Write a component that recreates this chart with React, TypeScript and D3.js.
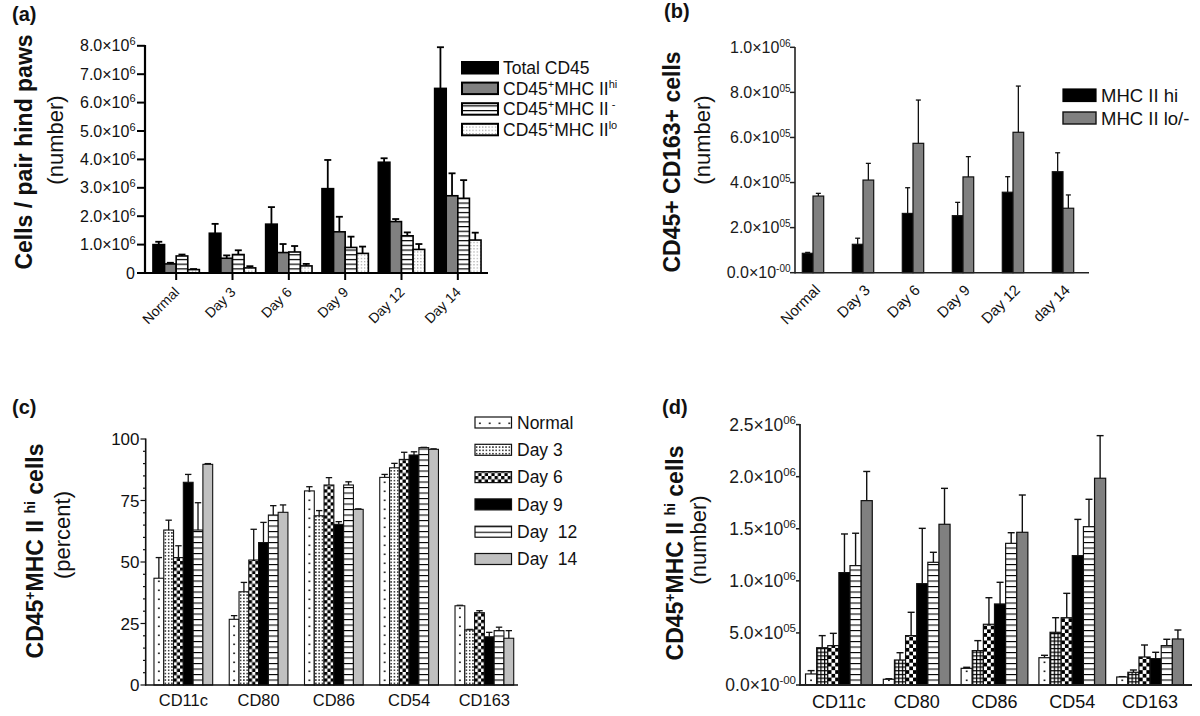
import React from "react";
import * as d3 from "d3";

const FONT = "'Liberation Sans', Arial, Helvetica, sans-serif";

// ---------- Panel (a) ----------
const daysA = ["Normal", "Day 3", "Day 6", "Day 9", "Day 12", "Day 14"];
const aTotal = [1.0, 1.4, 1.72, 2.97, 3.9, 6.5]; // x10^6
const aTotalErr = [1.1, 1.73, 2.32, 3.98, 4.04, 7.95];
const aHi = [0.32, 0.52, 0.72, 1.45, 1.81, 2.72];
const aHiErr = [0.36, 0.62, 1.02, 1.98, 1.9, 3.51];
const aNeg = [0.6, 0.65, 0.74, 0.9, 1.31, 2.63];
const aNegErr = [0.65, 0.8, 0.95, 1.28, 1.43, 3.27];
const aLo = [0.12, 0.18, 0.25, 0.69, 0.83, 1.16];
const aLoErr = [0.14, 0.24, 0.32, 0.93, 1.02, 1.42];
const aTicks = [0, 1, 2, 3, 4, 5, 6, 7, 8];
const aTickBase = ["0", "1.0×10", "2.0×10", "3.0×10", "4.0×10", "5.0×10", "6.0×10", "7.0×10", "8.0×10"];
const aTickSup = ["", "6", "6", "6", "6", "6", "6", "6", "6"];

// ---------- Panel (b) ----------
const daysB = ["Normal", "Day 3", "Day 6", "Day 9", "Day 12", "day 14"];
const bHi = [0.86, 1.26, 2.63, 2.53, 3.57, 4.48]; // x10^5
const bHiErr = [0.9, 1.53, 3.77, 3.12, 4.26, 5.32];
const bLo = [3.4, 4.11, 5.74, 4.25, 6.23, 2.86];
const bLoErr = [3.52, 4.85, 7.66, 5.15, 8.28, 3.45];
const bTicks = [0, 2, 4, 6, 8, 10];
const bTickBase = ["0.0×10", "2.0×10", "4.0×10", "6.0×10", "8.0×10", "1.0×10"];
const bTickSup = ["-00", "05", "05", "05", "05", "06"];

// ---------- Panels (c) & (d) ----------
const markers = ["CD11c", "CD80", "CD86", "CD54", "CD163"];
const dayNames = ["Normal", "Day 3", "Day 6", "Day 9", "Day\u00A0 12", "Day\u00A0 14"];

const cNormal = [43.4, 26.7, 78.9, 84.4, 32.2];
const cNormalErr = [51.8, 28.2, 80.6, 85.6, 32.4];
const cDay3 = [63, 37.9, 68.8, 88.3, 22.4];
const cDay3Err = [67, 41.7, 70.9, 90.1, 22.6];
const cDay6 = [51.8, 50.8, 81.3, 91.7, 29.4];
const cDay6Err = [56.6, 63.3, 84.3, 94.6, 30.2];
const cDay9 = [82.4, 57.9, 65.3, 93.5, 19.6];
const cDay9Err = [85.6, 66.1, 66.4, 94.8, 21.4];
const cDay12 = [63, 69.1, 81.3, 96.5, 22.1];
const cDay12Err = [74.1, 72.9, 82.6, 96.6, 23.5];
const cDay14 = [89.7, 70.2, 71.4, 95.8, 19];
const cDay14Err = [90, 73.2, 71.6, 96.0, 22.1];
const cTicks = [0, 25, 50, 75, 100];

const dNormal = [1.06, 0.55, 1.6, 2.62, 0.77]; // x10^5
const dNormalErr = [1.38, 0.6, 1.7, 2.85, 0.8];
const dDay3 = [3.58, 2.4, 3.3, 5.06, 1.22];
const dDay3Err = [4.74, 3.1, 4.26, 6.46, 1.44];
const dDay6 = [3.78, 4.74, 5.83, 6.46, 2.69];
const dDay6Err = [4.96, 6.98, 8.38, 8.8, 3.84];
const dDay9 = [10.79, 9.73, 7.78, 12.42, 2.53];
const dDay9Err = [14.5, 15.04, 9.86, 15.9, 3.14];
const dDay12 = [11.46, 11.78, 13.6, 15.2, 3.78];
const dDay12Err = [14.57, 12.74, 14.62, 17.83, 4.39];
const dDay14 = [17.7, 15.43, 14.66, 19.85, 4.42];
const dDay14Err = [20.5, 18.88, 18.24, 23.94, 5.28];
const dTicks = [0, 5, 10, 15, 20, 25];
const dTickBase = ["0.0×10", "5.0×10", "1.0×10", "1.5×10", "2.0×10", "2.5×10"];
const dTickSup = ["-00", "05", "06", "06", "06", "06"];

type Kind = "black" | "gray" | "lgray" | "aStripe" | "aDots" | "normal" | "c3" | "d3" | "check" | "stripe";

function patternEl(id: string, kind: Kind, x: number, y: number, w: number) {
  const common = { id, x, y, patternUnits: "userSpaceOnUse" as const };
  switch (kind) {
    case "aStripe":
      return (
        <pattern key={id} {...common} width={10} height={4.7}>
          <rect width={10} height={4.7} fill="#fff" />
          <rect y={0} width={10} height={1.2} fill="#000" />
        </pattern>
      );
    case "aDots":
      return (
        <pattern key={id} {...common} width={3.2} height={3.2}>
          <rect width={3.2} height={3.2} fill="#fff" />
          <rect x={1} y={1} width={0.9} height={0.9} fill="#555" />
        </pattern>
      );
    case "normal":
      return (
        <pattern key={id} {...common} width={w} height={9}>
          <rect width={w} height={9} fill="#fff" />
          <rect x={w / 2 - 0.8} y={3.5} width={1.6} height={1.6} fill="#000" />
        </pattern>
      );
    case "c3":
      return (
        <pattern key={id} {...common} width={3.27} height={3.27}>
          <rect width={3.27} height={3.27} fill="#fff" />
          <rect x={0.9} y={0.9} width={1.4} height={1.4} fill="#000" />
        </pattern>
      );
    case "d3": {
      const s = w / 3;
      return (
        <pattern key={id} {...common} width={s} height={s}>
          <rect width={s} height={s} fill="#fff" />
          <rect width={s} height={1.2} fill="#000" />
          <rect width={1.2} height={s} fill="#000" />
        </pattern>
      );
    }
    case "check": {
      const s = w / 3;
      return (
        <pattern key={id} {...common} width={2 * s} height={2 * s}>
          <rect width={2 * s} height={2 * s} fill="#fff" />
          <rect width={s} height={s} fill="#000" />
          <rect x={s} y={s} width={s} height={s} fill="#000" />
        </pattern>
      );
    }
    case "stripe":
      return (
        <pattern key={id} {...common} width={10} height={5.5}>
          <rect width={10} height={5.5} fill="#fff" />
          <rect y={0} width={10} height={1.1} fill="#000" />
        </pattern>
      );
    default:
      return null;
  }
}

function solid(kind: Kind): string | null {
  if (kind === "black") return "#000";
  if (kind === "gray") return "#808080";
  if (kind === "lgray") return "#c0c0c0";
  return null;
}

export default function App() {
  const defs: React.ReactNode[] = [];
  const fillFor = (id: string, kind: Kind, x: number, y: number, w: number) => {
    const s = solid(kind);
    if (s) return s;
    defs.push(patternEl(id, kind, x, y, w));
    return `url(#${id})`;
  };

  const els: React.ReactNode[] = [];

  // ============ Panel (a) ============
  {
    const x = d3.scaleBand().domain(daysA).range([148, 486]);
    const y = d3.scaleLinear().domain([0, 8]).range([273, 45.8]);
    const bw = 11.6;
    const series: { v: number[]; e: number[]; kind: Kind }[] = [
      { v: aTotal, e: aTotalErr, kind: "black" },
      { v: aHi, e: aHiErr, kind: "gray" },
      { v: aNeg, e: aNegErr, kind: "aStripe" },
      { v: aLo, e: aLoErr, kind: "aDots" },
    ];
    daysA.forEach((d, i) => {
      const cx = (x(d) as number) + x.bandwidth() / 2;
      series.forEach((s, k) => {
        const bx = cx - 2 * bw + k * bw;
        const top = y(s.v[i]);
        const et = y(s.e[i]);
        const bc = bx + bw / 2;
        els.push(
          <g key={`a-${i}-${k}`}>
            <line x1={bc} x2={bc} y1={top} y2={et} stroke="#000" strokeWidth={1.8} />
            <line x1={bc - 3.5} x2={bc + 3.5} y1={et} y2={et} stroke="#000" strokeWidth={1.8} />
            <rect x={bx} y={top} width={bw} height={y(0) - top}
              fill={fillFor(`pa-${i}-${k}`, s.kind, bx, y(0), bw)} stroke="#000" strokeWidth={1.6} />
          </g>
        );
      });
      els.push(<line key={`axt-${i}`} x1={cx} x2={cx} y1={273} y2={280} stroke="#000" strokeWidth={2} />);
      els.push(
        <text key={`axl-${i}`} transform={`translate(${cx + 4},${293}) rotate(-45)`} textAnchor="end"
          fontSize={14} fill="#111">{d}</text>
      );
    });
    els.push(<line key="a-xaxis" x1={144} x2={488} y1={273} y2={273} stroke="#000" strokeWidth={2.2} />);
    els.push(<line key="a-yaxis" x1={145} x2={145} y1={45} y2={274} stroke="#000" strokeWidth={2.2} />);
    aTicks.forEach((t, i) => {
      const ty = y(t);
      els.push(<line key={`ayt-${i}`} x1={137} x2={145} y1={ty} y2={ty} stroke="#000" strokeWidth={2} />);
      els.push(
        <text key={`ayl-${i}`} x={aTickSup[i] ? 135.5 : 135} y={ty + 5.5} textAnchor="end" fontSize={16} fill="#111">
          <tspan>{aTickBase[i]}</tspan>
          {aTickSup[i] ? <tspan fontSize={11} dy={-6}>{aTickSup[i]}</tspan> : null}
        </text>
      );
    });
    // legend
    const lgKinds: Kind[] = ["black", "gray", "aStripe", "aDots"];
    lgKinds.forEach((k, i) => {
      const ly = 62 + i * 20.6;
      els.push(
        <rect key={`alg-${i}`} x={462} y={ly} width={36} height={11.5}
          fill={fillFor(`pal-${i}`, k, 462, ly + 11.5, 36)} stroke="#000" strokeWidth={2} />
      );
    });
    const lgx = 503;
    els.push(<text key="alt0" x={lgx} y={74} fontSize={17.5} fill="#111">Total CD45</text>);
    const supRow = (key: string, yy: number, tail: string) => (
      <text key={key} x={lgx} y={yy} fontSize={17.5} fill="#111">
        <tspan>CD45</tspan>
        <tspan fontSize={11} dy={-7}>+</tspan>
        <tspan dy={7}>MHC II</tspan>
        <tspan fontSize={11} dy={-7}>{tail}</tspan>
      </text>
    );
    els.push(supRow("alt1", 94.6, "hi"));
    els.push(supRow("alt2", 115.2, "\u00A0-"));
    els.push(supRow("alt3", 135.8, "lo"));
    // y labels
    els.push(
      <text key="a-ylab" transform="translate(32,152) rotate(-90)" textAnchor="middle" fontSize={23}
        fontWeight="bold" fill="#111">Cells / pair hind paws</text>
    );
    els.push(
      <text key="a-ylab2" transform="translate(62.5,140) rotate(-90)" textAnchor="middle" fontSize={22}
        fill="#111">(number)</text>
    );
    els.push(<text key="a-tag" x={12} y={21} fontSize={20} fontWeight="bold" fill="#111">(a)</text>);
  }

  // ============ Panel (b) ============
  {
    const x = d3.scaleBand().domain(daysB).range([788, 1088]);
    const y = d3.scaleLinear().domain([0, 10]).range([272.7, 47.3]);
    const bw = 10.7;
    const series: { v: number[]; e: number[]; kind: Kind }[] = [
      { v: bHi, e: bHiErr, kind: "black" },
      { v: bLo, e: bLoErr, kind: "gray" },
    ];
    daysB.forEach((d, i) => {
      const cx = (x(d) as number) + x.bandwidth() / 2;
      series.forEach((s, k) => {
        const bx = cx - bw + k * bw;
        const top = y(s.v[i]);
        const et = y(s.e[i]);
        const bc = bx + bw / 2;
        els.push(
          <g key={`b-${i}-${k}`}>
            <line x1={bc} x2={bc} y1={top} y2={et} stroke="#111" strokeWidth={1.3} />
            <line x1={bc - 2.5} x2={bc + 2.5} y1={et} y2={et} stroke="#111" strokeWidth={1.3} />
            <rect x={bx} y={top} width={bw} height={y(0) - top} fill={solid(s.kind) as string}
              stroke="#111" strokeWidth={1.2} />
          </g>
        );
      });
      els.push(
        <text key={`bxl-${i}`} transform={`translate(${cx + 8},${291}) rotate(-45)`} textAnchor="end"
          fontSize={15} fill="#111">{d}</text>
      );
    });
    els.push(<line key="b-xaxis" x1={795} x2={1089} y1={272.7} y2={272.7} stroke="#222" strokeWidth={1.6} />);
    els.push(<line key="b-yaxis" x1={795} x2={795} y1={47} y2={273.5} stroke="#222" strokeWidth={1.6} />);
    bTicks.forEach((t, i) => {
      const ty = y(t);
      els.push(<line key={`byt-${i}`} x1={790} x2={795} y1={ty} y2={ty} stroke="#222" strokeWidth={1.5} />);
      els.push(
        <text key={`byl-${i}`} x={790.5} y={ty + 5.5} textAnchor="end" fontSize={16} fill="#1a1a1a">
          <tspan>{bTickBase[i]}</tspan>
          <tspan fontSize={10} dy={-6}>{bTickSup[i]}</tspan>
        </text>
      );
    });
    els.push(<rect key="blg0" x={1063} y={89} width={33} height={12.5} fill="#000" stroke="#000" strokeWidth={1.2} />);
    els.push(<rect key="blg1" x={1063} y={112} width={33} height={12} fill="#808080" stroke="#111" strokeWidth={1.4} />);
    els.push(<text key="blt0" x={1101} y={102} fontSize={18.5} fill="#111">MHC II hi</text>);
    els.push(<text key="blt1" x={1101} y={124.5} fontSize={18.5} fill="#111">MHC II lo/-</text>);
    els.push(
      <text key="b-ylab" transform="translate(680,162) rotate(-90)" textAnchor="middle" fontSize={23}
        fontWeight="bold" fill="#111">CD45+ CD163+ cells</text>
    );
    els.push(
      <text key="b-ylab2" transform="translate(710,140) rotate(-90)" textAnchor="middle" fontSize={22}
        fill="#111">(number)</text>
    );
    els.push(<text key="b-tag" x={664} y={18} fontSize={20} fontWeight="bold" fill="#111">(b)</text>);
  }

  // ============ Panel (c) ============
  const cSeries: { v: number[]; e: number[]; kind: Kind }[] = [
    { v: cNormal, e: cNormalErr, kind: "normal" },
    { v: cDay3, e: cDay3Err, kind: "c3" },
    { v: cDay6, e: cDay6Err, kind: "check" },
    { v: cDay9, e: cDay9Err, kind: "black" },
    { v: cDay12, e: cDay12Err, kind: "stripe" },
    { v: cDay14, e: cDay14Err, kind: "lgray" },
  ];
  {
    const x = d3.scaleBand().domain(markers).range([145.7, 522]);
    const y = d3.scaleLinear().domain([0, 100]).range([685, 439]);
    const bw = (x.bandwidth() * 0.78) / 6;
    markers.forEach((m, i) => {
      const cx = (x(m) as number) + x.bandwidth() / 2;
      cSeries.forEach((s, k) => {
        const bx = cx - 3 * bw + k * bw;
        const top = y(s.v[i]);
        const et = y(s.e[i]);
        const bc = bx + bw / 2;
        els.push(
          <g key={`c-${i}-${k}`}>
            <line x1={bc} x2={bc} y1={top} y2={et} stroke="#111" strokeWidth={1.3} />
            <line x1={bc - 3.2} x2={bc + 3.2} y1={et} y2={et} stroke="#111" strokeWidth={1.3} />
            <rect x={bx} y={top} width={bw} height={y(0) - top}
              fill={fillFor(`pc-${i}-${k}`, s.kind, bx, y(0), bw)} stroke="#111" strokeWidth={1.1} />
          </g>
        );
      });
      els.push(
        <text key={`cxl-${i}`} x={cx} y={706} textAnchor="middle" fontSize={16.5} fill="#111">{m}</text>
      );
    });
    els.push(<line key="c-xaxis" x1={145} x2={518} y1={685} y2={685} stroke="#111" strokeWidth={1.6} />);
    els.push(<line key="c-yaxis" x1={145.7} x2={145.7} y1={438.5} y2={685.5} stroke="#111" strokeWidth={1.6} />);
    d3.range(0, 101, 5).forEach((t) => {
      const ty = y(t);
      const major = t % 25 === 0;
      els.push(
        <line key={`cyt-${t}`} x1={major ? 140.5 : 143} x2={145.7} y1={ty} y2={ty} stroke="#111" strokeWidth={1.2} />
      );
    });
    cTicks.forEach((t, i) => {
      els.push(
        <text key={`cyl-${i}`} x={139.5} y={y(t) + 6} textAnchor="end" fontSize={17} fill="#111">{t}</text>
      );
    });
    // legend
    cSeries.forEach((s, k) => {
      const cy = 422.5 + k * 27.3;
      const ly = cy - 5.5;
      els.push(
        <rect key={`clg-${k}`} x={475} y={ly} width={36.5} height={11}
          fill={fillFor(`pcl-${k}`, s.kind, 475, ly + 11, 9.8)} stroke="#111" strokeWidth={1.2} />
      );
      els.push(
        <text key={`clt-${k}`} x={517} y={cy + 6.2} fontSize={17.5} fill="#111">{dayNames[k]}</text>
      );
    });
    els.push(
      <text key="c-ylab" transform="translate(43,551) rotate(-90)" textAnchor="middle" fontSize={23}
        fontWeight="bold" fill="#111">
        <tspan>CD45</tspan>
        <tspan fontSize={14} dy={-8}>+</tspan>
        <tspan dy={8}>MHC II </tspan>
        <tspan fontSize={14} dy={-8}>hi</tspan>
        <tspan dy={8}> cells</tspan>
      </text>
    );
    els.push(
      <text key="c-ylab2" transform="translate(70,535) rotate(-90)" textAnchor="middle" fontSize={22}
        fill="#111">(percent)</text>
    );
    els.push(<text key="c-tag" x={12} y={414} fontSize={20} fontWeight="bold" fill="#111">(c)</text>);
  }

  // ============ Panel (d) ============
  {
    const dSeries: { v: number[]; e: number[]; kind: Kind }[] = [
      { v: dNormal, e: dNormalErr, kind: "normal" },
      { v: dDay3, e: dDay3Err, kind: "d3" },
      { v: dDay6, e: dDay6Err, kind: "check" },
      { v: dDay9, e: dDay9Err, kind: "black" },
      { v: dDay12, e: dDay12Err, kind: "stripe" },
      { v: dDay14, e: dDay14Err, kind: "gray" },
    ];
    const x = d3.scaleBand().domain(markers).range([800, 1189]);
    const y = d3.scaleLinear().domain([0, 25]).range([685, 424.6]);
    const bw = (x.bandwidth() * 0.858) / 6;
    markers.forEach((m, i) => {
      const cx = (x(m) as number) + x.bandwidth() / 2;
      dSeries.forEach((s, k) => {
        const bx = cx - 3 * bw + k * bw;
        const top = y(s.v[i]);
        const et = y(s.e[i]);
        const bc = bx + bw / 2;
        els.push(
          <g key={`d-${i}-${k}`}>
            <line x1={bc} x2={bc} y1={top} y2={et} stroke="#111" strokeWidth={1.4} />
            <line x1={bc - 3.5} x2={bc + 3.5} y1={et} y2={et} stroke="#111" strokeWidth={1.4} />
            <rect x={bx} y={top} width={bw} height={y(0) - top}
              fill={fillFor(`pd-${i}-${k}`, s.kind, bx, y(0), bw)} stroke="#111" strokeWidth={1.2} />
          </g>
        );
      });
      els.push(
        <text key={`dxl-${i}`} x={cx} y={708} textAnchor="middle" fontSize={18} fill="#111">{m}</text>
      );
    });
    els.push(<line key="d-xaxis" x1={799} x2={1192} y1={685} y2={685} stroke="#222" strokeWidth={1.8} />);
    els.push(<line key="d-yaxis" x1={800} x2={800} y1={424} y2={686} stroke="#222" strokeWidth={1.8} />);
    dTicks.forEach((t, i) => {
      const ty = y(t);
      els.push(<line key={`dyt-${i}`} x1={796} x2={800} y1={ty} y2={ty} stroke="#222" strokeWidth={1.5} />);
      els.push(
        <text key={`dyl-${i}`} x={796} y={ty + 6} textAnchor="end" fontSize={17.5} fill="#1a1a1a">
          <tspan>{dTickBase[i]}</tspan>
          <tspan fontSize={11.5} dy={-7}>{dTickSup[i]}</tspan>
        </text>
      );
    });
    els.push(
      <text key="d-ylab" transform="translate(683,553) rotate(-90)" textAnchor="middle" fontSize={23}
        fontWeight="bold" fill="#111">
        <tspan>CD45</tspan>
        <tspan fontSize={14} dy={-8}>+</tspan>
        <tspan dy={8}>MHC II </tspan>
        <tspan fontSize={14} dy={-8}>hi</tspan>
        <tspan dy={8}> cells</tspan>
      </text>
    );
    els.push(
      <text key="d-ylab2" transform="translate(705.5,540) rotate(-90)" textAnchor="middle" fontSize={22}
        fill="#111">(number)</text>
    );
    els.push(<text key="d-tag" x={662} y={414} fontSize={20} fontWeight="bold" fill="#111">(d)</text>);
  }

  return (
    <svg width={1200} height={716} viewBox="0 0 1200 716"
      style={{ position: "absolute", left: 0, top: 0, display: "block", background: "#fff" }}
      fontFamily={FONT}>
      <defs>{defs}</defs>
      <rect width={1200} height={716} fill="#fff" />
      {els}
    </svg>
  );
}
